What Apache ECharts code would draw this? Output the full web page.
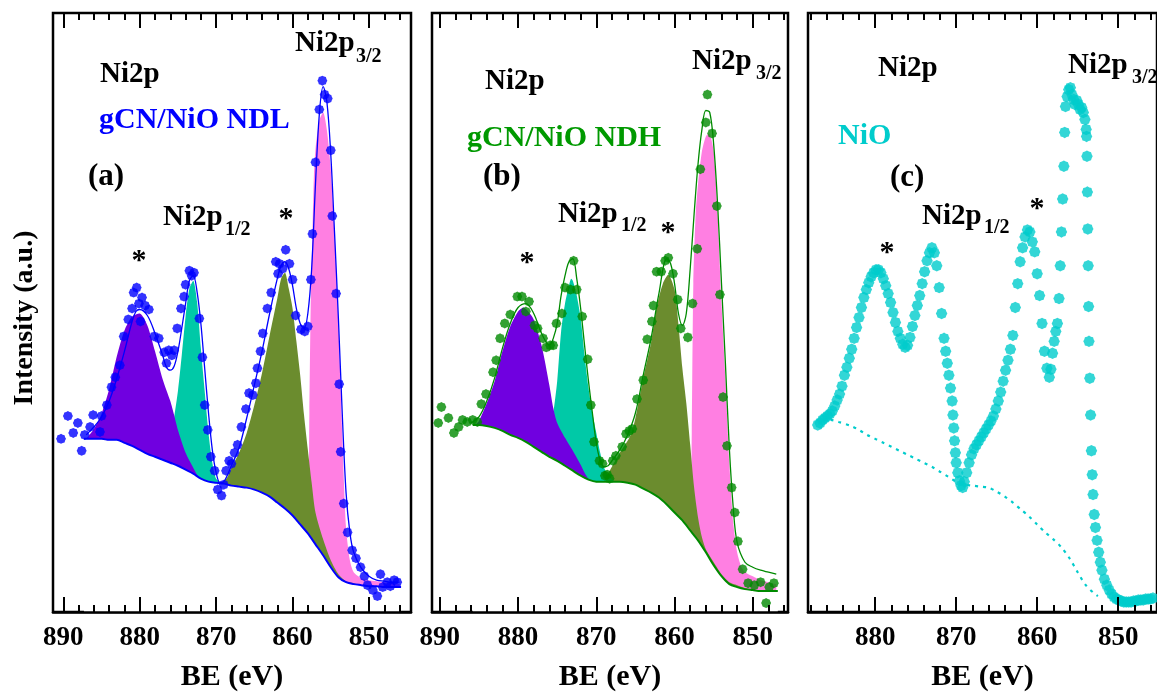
<!DOCTYPE html>
<html>
<head>
<meta charset="utf-8">
<script src="https://cdn.jsdelivr.net/npm/echarts@6/dist/echarts.min.js"></script>
<style>
  html, body { margin: 0; padding: 0; background: #fff; }
  #chart { width: 1157px; height: 697px; }
</style>
</head>
<body>
<div id="chart"></div>
<script>
// ---------- axis ticks (BE in eV) ----------
const majorTicks = [850, 860, 870, 880, 890];
const minorTicks = [846, 848, 852, 854, 856, 858, 862, 864, 866, 868, 872, 874, 876, 878, 882, 884, 886, 888];

// ---------- (a) gCN/NiO NDL : [BE (eV), intensity (a.u.)] ----------
const ndlPoints = [[890.3,174],[889.4,197],[888.7,180],[888.1,190],[887.6,162],[887.2,178],[886.5,186],[886.1,198],[885.2,181],[885.0,197],[884.3,208],[883.7,226],[883.2,236],[882.6,248],[882.1,277],[881.5,294],[881.0,305],[880.8,321],[880.4,326],[880.1,310],[879.9,292],[879.7,316],[879.3,308],[878.8,304],[878.1,277],[877.5,275],[876.8,261],[876.5,250],[876.2,263],[875.8,258],[875.5,263],[875.1,285],[874.6,305],[874.2,317],[874.0,329],[873.5,343],[873.2,338],[872.9,341],[872.2,295],[871.8,256],[871.5,208],[871.1,183],[870.7,156],[870.2,142],[869.8,123],[869.3,117],[869.0,128],[868.7,142],[868.3,152],[868.0,149],[867.6,160],[867.2,168],[866.7,186],[866.1,204],[865.7,220],[865.2,218],[864.8,230],[864.6,245],[864.2,262],[863.9,280],[863.3,305],[862.8,321],[862.2,352],[861.9,340],[861.7,350],[861.3,345],[860.9,364],[860.4,350],[860.0,334],[859.6,298],[858.9,284],[858.4,282],[858.0,287],[857.6,334],[857.4,380],[857.0,452],[856.5,505],[856.1,534],[855.8,520],[855.4,516],[855.0,464],[854.8,398],[854.3,320],[853.9,229],[853.7,161],[853.3,109],[852.8,80],[852.2,62],[851.7,54],[851.1,45],[850.6,36],[850.2,27],[849.5,22],[848.9,16],[848.5,38],[848.2,25],[847.6,30],[847.2,26],[846.7,32],[846.3,30]];
const ndlFit = [[887,178],[886,186],[885,196],[884,212],[883,235],[882,262],[881,292],[880.5,302],[880,304],[879,298],[878,280],[877,258],[876.5,246],[876,243],[875.5,247],[875,262],[874.5,285],[874,310],[873.5,333],[873,338],[872.5,322],[872,290],[871.5,245],[871,200],[870.5,163],[870,140],[869.5,130],[869,131],[868.5,138],[868,147],[867,165],[866,195],[865,228],[864,262],[863,300],[862,335],[861.5,348],[861,352],[860.5,345],[860,328],[859.5,305],[859,290],[858.5,285],[858,300],[857.5,345],[857,430],[856.5,500],[856,528],[855.5,512],[855,460],[854.5,380],[854,295],[853.5,200],[853,120],[852.5,80],[852,60],[851,44],[850,36],[849,32],[848,31],[847,30],[846,30]];
const ndlBackground = [[887.3,174],[887,174],[886,174],[885,174],[884,173],[883,173],[882,170],[881,167],[880,163],[879,159],[878,156],[877,153],[876,150],[875,147],[874,143],[873,139],[872,134],[871,131],[870,130],[869,129],[868,127],[867,126],[866,125],[865,123],[864,120],[863,116],[862,110],[861,104],[860,97],[859,88],[858,79],[857,68],[856,57],[855,45],[854,35],[853,30],[852,28],[851,27],[850,26],[849,26],[848,25],[847,25],[846,25],[845.8,25]];
const ndlSat2p12 = [[887,174],[886,184],[885,199],[884,224],[883,257],[882,283],[881,297],[880,300],[879,288],[878,262],[877,234],[876,212],[875.5,198],[875,183],[874,160],[873,145],[872.5,138],[872,134],[871,131]];
const ndl2p12 = [[877,153],[876,165],[875.5,195],[875,222],[874.5,258],[874,297],[873.5,325],[873,333],[872.5,312],[872,265],[871.5,222],[871,180],[870.5,150],[870,134],[869,129]];
const ndlSat2p32 = [[869.5,129],[869,131],[868.5,136],[868,145],[867,160],[866,180],[865,208],[864,240],[863,278],[862,315],[861.5,335],[861,341],[860.5,325],[860,305],[859.5,272],[859,238],[858.5,198],[858,163],[857.5,130],[857,100],[856,73],[855,52],[854,38],[853,31],[852,29],[851,27],[850,26]];
const ndl2p32 = [[858.5,84],[858,80],[857.8,200],[857.6,320],[857.4,380],[857.2,440],[857,465],[856.5,494],[856,502],[855.5,484],[855,445],[854.5,380],[854,295],[853.5,180],[853,85],[852.5,52],[852,40],[851,34],[850,32],[849,31],[848,30],[847,29],[846,28]];

// ---------- (b) gCN/NiO NDH ----------
const ndhPoints = [[890.2,190],[889.8,206],[888.9,195],[888.2,180],[887.6,186],[887.1,193],[886.5,191],[885.8,193],[885.2,191],[884.7,209],[884.1,219],[883.2,241],[882.8,253],[882.3,275],[881.7,290],[881.0,299],[880.1,317],[879.5,317],[879.0,302],[878.6,312],[877.9,288],[877.5,285],[876.8,275],[876.4,266],[875.9,268],[875.5,268],[875.1,290],[874.4,300],[874.0,326],[873.3,324],[872.9,353],[872.5,324],[871.8,297],[871.1,254],[870.7,208],[870.3,171],[869.6,152],[869.2,149],[868.9,137],[868.6,138],[868.3,134],[867.9,152],[867.5,157],[866.7,166],[866.2,179],[865.8,182],[865.4,184],[864.8,214],[864.0,233],[863.5,274],[862.9,292],[862.7,308],[862.3,342],[861.7,342],[861.2,353],[860.8,356],[860.2,340],[859.6,314],[859.2,285],[858.3,276],[857.7,310],[857.1,365],[856.7,445],[856.0,492],[855.8,520],[855.2,481],[854.6,408],[854.2,319],[853.8,216],[853.3,167],[852.7,125],[852.3,100],[851.9,71],[851.3,43],[850.6,29],[849.8,27],[849.0,30],[848.3,9],[847.9,25],[847.3,29]];
const ndhFit = [[886,190],[885,196],[884,212],[883,235],[882,265],[881,290],[880,306],[879,310],[878,300],[877,280],[876,268],[875.5,275],[875,290],[874.5,318],[874,338],[873.5,352],[873,355],[872.5,335],[872,305],[871.5,268],[871,232],[870.5,200],[870,170],[869.5,152],[869,146],[868.5,147],[868,152],[867,163],[866,178],[865,200],[864,238],[863,275],[862,320],[861,355],[860.5,350],[860,330],[859.5,300],[859,288],[858.5,300],[858,345],[857.5,400],[857,450],[856.5,485],[856,504],[855.5,502],[855,470],[854.5,410],[854,330],[853.5,250],[853,165],[852.5,105],[852,70],[851,50],[850,45],[849,42],[848,40],[847,38]];
const ndhBackground = [[885.8,188],[885.5,188],[885,188],[884,187],[883,185],[882,182],[881,178],[880,175],[879,171],[878,166],[877,161],[876,156],[875,152],[874,147],[873,142],[872,137],[871,133],[870,131],[869,131],[868,131],[867,131],[866,130],[865,128],[864,124],[863,120],[862,115],[861,108],[860,100],[859,92],[858,82],[857,72],[856,60],[855,47],[854,36],[853,28],[852,25],[851,23],[850,22],[849,21],[848,21],[847,21],[846.8,21]];
const ndhSat2p12 = [[885.5,188],[885,192],[884,210],[883,232],[882,262],[881,287],[880,302],[879.3,306],[878.5,300],[878,294],[877,268],[876,228],[875.5,205],[875,190],[874,175],[873,162],[872,148],[871.5,140],[871,134],[870.5,132]];
const ndh2p12 = [[877,161],[876,175],[875.5,200],[875,232],[874.5,282],[874,310],[873.5,328],[873.2,335],[873,333],[872.5,318],[872,295],[871.5,258],[871,225],[870.5,200],[870,180],[869.5,160],[869,145],[868.5,138],[868,133],[867.5,131]];
const ndhSat2p32 = [[869.5,131],[869,133],[868,146],[867,160],[866,172],[865.5,180],[865,195],[864.5,215],[864,235],[863,271],[862.3,306],[861.5,330],[860.8,339],[860,324],[859.5,289],[859,245],[858.5,210],[858,168],[857.5,125],[857,95],[856.5,75],[856,63],[855,50],[854,38],[853,30],[852,27],[851,24],[850,22]];
const ndh2p32 = [[858.5,87],[858,82],[857.8,180],[857.6,330],[857.3,400],[857,430],[856.5,463],[856,478],[855.6,481],[855,463],[854.5,400],[854,310],[853.5,235],[853,150],[852.5,90],[852,60],[851.5,46],[851,40],[850,36],[849,32],[848,30],[847,28]];

// ---------- (c) NiO ----------
const nioPoints = [[887.1,188],[886.8,190],[886.5,193],[886.2,195],[885.9,197],[885.6,199],[885.3,202],[885.0,207],[884.7,213],[884.4,219],[884.1,227],[883.8,238],[883.5,246],[883.2,255],[882.9,264],[882.6,275],[882.3,286],[882.0,296],[881.7,306],[881.4,316],[881.1,324],[880.8,331],[880.5,337],[880.2,341],[879.9,344],[879.6,344],[879.3,341],[879.0,335],[878.7,328],[878.4,320],[878.1,311],[877.8,301],[877.5,291],[877.2,282],[876.9,275],[876.6,269],[876.3,266],[876.0,268],[875.7,276],[875.4,287],[875.1,298],[874.8,308],[874.5,318],[874.2,330],[873.9,342],[873.6,353],[873.3,361],[873.0,366],[872.7,361],[872.4,348],[872.1,326],[871.8,300],[871.5,275],[871.3,262],[871.1,250],[870.9,238],[870.7,225],[870.5,212],[870.4,198],[870.3,185],[870.2,172],[870.1,160],[870.0,150],[869.8,140],[869.6,132],[869.4,127],[869.2,125],[869.0,131],[868.7,140],[868.4,150],[868.1,158],[867.8,164],[867.5,168],[867.2,172],[866.9,176],[866.6,180],[866.3,184],[866.0,188],[865.7,192],[865.4,197],[865.1,204],[864.8,212],[864.5,221],[864.2,232],[863.9,243],[863.6,253],[863.3,264],[863.0,278],[862.7,306],[862.4,330],[862.1,352],[861.8,366],[861.5,377],[861.2,384],[860.9,382],[860.6,372],[860.3,362],[860.0,340],[859.7,318],[859.4,290],[859.1,262],[858.8,245],[858.5,236],[858.3,244],[858.1,260],[857.9,272],[857.7,282],[857.5,290],[857.3,315],[857.15,348],[857.0,382],[856.85,415],[856.7,448],[856.6,482],[856.5,508],[856.3,518],[856.1,525],[855.9,527],[855.7,520],[855.5,515],[855.3,510],[855.1,514],[854.9,510],[854.7,505],[854.5,507],[854.3,502],[854.1,495],[853.95,485],[853.9,478],[853.85,458],[853.8,422],[853.75,385],[853.7,348],[853.65,307],[853.6,272],[853.5,235],[853.4,198],[853.3,162],[853.2,138],[853.1,118],[852.95,98],[852.8,85],[852.6,72],[852.4,60],[852.2,50],[852.0,42],[851.7,33],[851.4,27],[851.1,22],[850.8,18],[850.5,15],[850.2,13],[849.9,12],[849.6,11],[849.3,10],[849.0,10],[848.7,10],[848.4,10],[848.1,11],[847.8,11],[847.5,12],[847.2,12],[846.9,12],[846.6,13],[846.3,13],[846.0,13],[845.7,14]];
const nioBackground = [[886.5,192],[885.5,193],[884.5,191],[883,187],[882,183],[881,178],[880,174],[879,170],[878,166],[877,162],[876,158],[875,154],[874,150],[873,146],[872,141],[871,136],[870,131],[869,128],[868,127],[867,126],[866,125],[865,121],[864,116],[863,110],[862,103],[861,96],[860,88],[859,80],[858,73],[857,65],[856,54],[855,40],[854,27],[853,19],[852.5,16]];

// ---------- styling ----------
const FONT = '"Liberation Serif", "Times New Roman", serif';
const BLUE = '#0000ff', GREEN = '#008a00', CYAN = '#00cccc';
const PURPLE = '#7000e0', TEAL = '#00c9a7', OLIVE = '#6b8c2e', PINK = '#ff7fe2';
// chunky eight-point data marker
const MARK = 'path://M0,-10L3.4,-8.2L7.1,-7.1L8.2,-3.4L10,0L8.2,3.4L7.1,7.1L3.4,8.2L0,10L-3.4,8.2L-7.1,7.1L-8.2,3.4L-10,0L-8.2,-3.4L-7.1,-7.1L-3.4,-8.2Z';

const frames = [
  { left: 53, width: 358, min: 844.5, max: 891.35 },
  { left: 432, width: 356, min: 845.5, max: 891.0 },
  { left: 808, width: 358, min: 845.2, max: 888.3 }
];

const grids = [], xAxes = [], yAxes = [];
frames.forEach((f, i) => {
  grids.push({ left: f.left, width: f.width, top: 13, height: 602, show: true,
               borderColor: '#000', borderWidth: 2.5, backgroundColor: 'transparent' });
  yAxes.push({ type: 'value', gridIndex: i, min: 0, max: 602, show: false });
  const inRange = v => v >= f.min && v <= f.max;
  const majors = majorTicks.filter(inRange), minors = minorTicks.filter(inRange);
  const base = { type: 'value', gridIndex: i, min: f.min, max: f.max, inverse: true, z: 10,
                 splitLine: { show: false } };
  const tick = (vals, len) => ({ show: true, inside: true, length: len, customValues: vals,
                                 lineStyle: { color: '#000', width: 2 } });
  xAxes.push(Object.assign({}, base, {
    position: 'bottom',
    axisLine: { show: true, lineStyle: { color: '#000', width: 2.5 } },
    axisTick: tick(majors, 15),
    axisLabel: { show: true, customValues: majors, margin: 13, color: '#000',
                 fontFamily: FONT, fontWeight: 'bold', fontSize: 27 },
    name: 'BE (eV)', nameLocation: 'middle', nameGap: 50,
    nameTextStyle: { color: '#000', fontFamily: FONT, fontWeight: 'bold', fontSize: 30 }
  }));
  xAxes.push(Object.assign({}, base, { position: 'bottom', axisLine: { show: false },
    axisTick: tick(minors, 7), axisLabel: { show: false } }));
  xAxes.push(Object.assign({}, base, { position: 'top', axisLine: { show: false },
    axisTick: tick(majors, 15), axisLabel: { show: false } }));
  xAxes.push(Object.assign({}, base, { position: 'top', axisLine: { show: false },
    axisTick: tick(minors, 7), axisLabel: { show: false } }));
});

const ax = i => ({ xAxisIndex: 4 * i, yAxisIndex: i });
const fill = (i, data, color, z) => Object.assign({ type: 'line', data, z, smooth: 0.25,
  showSymbol: false, silent: true, lineStyle: { width: 0 }, areaStyle: { color, opacity: 1 } }, ax(i));
const baseline = (i, data, color) => Object.assign({ type: 'line', data, z: 6, smooth: 0.3,
  showSymbol: false, lineStyle: { color, width: 2 }, areaStyle: { color: '#fff', opacity: 1 } }, ax(i));
const fitLine = (i, data, color) => Object.assign({ type: 'line', data, z: 7, smooth: 0.35,
  showSymbol: false, lineStyle: { color, width: 1.3 } }, ax(i));
const points = (i, data, color, size) => Object.assign({ type: 'scatter', data, z: 8,
  symbol: MARK, symbolSize: size, itemStyle: { color } }, ax(i));

const series = [
  // (a) components: 2p3/2 drawn first, satellite of 2p1/2 last
  fill(0, ndl2p32, PINK, 2), fill(0, ndlSat2p32, OLIVE, 3),
  fill(0, ndl2p12, TEAL, 4), fill(0, ndlSat2p12, PURPLE, 5),
  baseline(0, ndlBackground, BLUE), fitLine(0, ndlFit, BLUE), points(0, ndlPoints, BLUE, 10),
  // (b)
  fill(1, ndh2p32, PINK, 2), fill(1, ndhSat2p32, OLIVE, 3),
  fill(1, ndh2p12, TEAL, 4), fill(1, ndhSat2p12, PURPLE, 5),
  baseline(1, ndhBackground, GREEN), fitLine(1, ndhFit, GREEN), points(1, ndhPoints, GREEN, 10),
  // (c)
  Object.assign({ type: 'line', data: nioBackground, z: 6, smooth: 0.3, showSymbol: false,
    lineStyle: { color: CYAN, width: 2.2, type: [3, 5] } }, ax(2)),
  points(2, nioPoints, CYAN, 11.5)
];

// ---------- annotations ----------
function txt(x, y, text, size, color, align) {
  return { type: 'text', x, y, silent: true, z: 20,
    style: { text, fill: color || '#000', font: 'bold ' + size + 'px ' + FONT,
             textAlign: align || 'left', textVerticalAlign: 'middle',
             align: align || 'left', verticalAlign: 'middle' } };
}
const graphics = [
  { type: 'text', x: 25, y: 318, rotation: Math.PI / 2, silent: true,
    style: { text: 'Intensity (a.u.)', fill: '#000', font: 'bold 28px ' + FONT,
             textAlign: 'center', textVerticalAlign: 'middle', align: 'center', verticalAlign: 'middle' } },
  // (a)
  txt(100, 75, 'Ni2p', 29), txt(99, 120, 'gCN/NiO NDL', 30, BLUE), txt(88, 177, '(a)', 31),
  txt(295, 44, 'Ni2p', 29), txt(356, 57, '3/2', 20),
  txt(163, 218, 'Ni2p', 29), txt(225, 230, '1/2', 20),
  txt(139, 261, '*', 30, '#000', 'center'), txt(286, 219, '*', 30, '#000', 'center'),
  // (b)
  txt(485, 82, 'Ni2p', 29), txt(467, 138, 'gCN/NiO NDH', 30, '#009900'), txt(483, 177, '(b)', 31),
  txt(692, 62, 'Ni2p', 29), txt(756, 74, '3/2', 20),
  txt(558, 215, 'Ni2p', 29), txt(621, 226, '1/2', 20),
  txt(527, 263, '*', 30, '#000', 'center'), txt(668, 233, '*', 30, '#000', 'center'),
  // (c)
  txt(878, 69, 'Ni2p', 29), txt(838, 136, 'NiO', 30, CYAN), txt(890, 178, '(c)', 31),
  txt(1068, 66, 'Ni2p', 29), txt(1132, 78, '3/2', 20),
  txt(922, 217, 'Ni2p', 29), txt(984, 228, '1/2', 20),
  txt(887, 253, '*', 30, '#000', 'center'), txt(1037, 209, '*', 30, '#000', 'center')
];

const chart = echarts.init(document.getElementById('chart'), null, { renderer: 'canvas' });
chart.setOption({
  animation: false,
  backgroundColor: '#fff',
  grid: grids,
  xAxis: xAxes,
  yAxis: yAxes,
  series,
  graphic: graphics
});
</script>
</body>
</html>
